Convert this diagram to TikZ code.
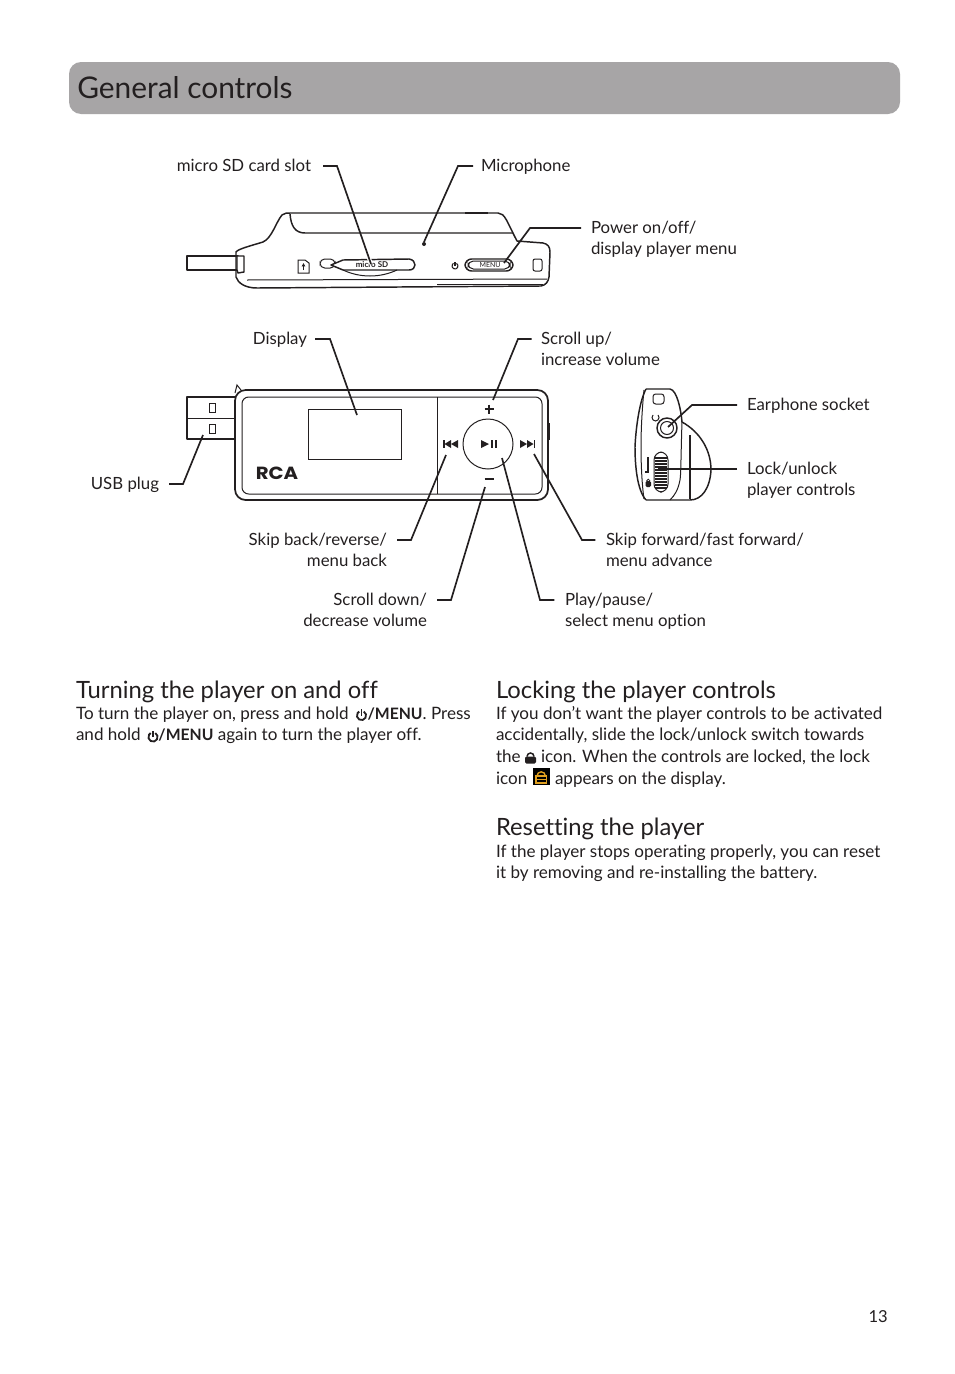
\documentclass[tikz,border=0pt]{standalone}
\usepackage{fontspec}
\setmainfont{Lato}[Ligatures=NoCommon]
\newfontfamily\rcafont{Poppins}[FakeStretch=1.12]
\usetikzlibrary{calc,arrows.meta}
\definecolor{ink}{HTML}{231F20}
\definecolor{band}{HTML}{A7A5A6}
\definecolor{lockgold}{HTML}{E0A020}
\newcommand{\bmenu}{{\fontsize{11.8}{16.3}\selectfont\bfseries /MENU}}
\tikzset{
  dev/.style={draw=ink,line width=1.1pt,line join=round},
  thin dev/.style={draw=ink,line width=.75pt},
  leader/.style={draw=ink,line width=1.25pt,line join=miter},
  lbl/.style={inner sep=0pt,outer sep=0pt,text=ink,font=\fontsize{12.6}{16.25}\selectfont},
  lblL/.style={lbl,anchor=north west,align=left},
  lblR/.style={lbl,anchor=north east,align=right},
  body/.style={inner sep=0pt,outer sep=0pt,text=ink,anchor=north west,align=left,font=\fontsize{12.8}{16.3}\selectfont},
  head/.style={inner sep=0pt,outer sep=0pt,text=ink,anchor=base west,font=\fontsize{17.85}{20}\selectfont},
}
\newcommand{\pwricon}[4]{% x, y, radius, line width
  \draw[ink,line width=#4] (#1,#2) ++(-60:#3) arc (-60:240:#3);
  \draw[ink,line width=#4] (#1,#2) -- ++(0,-#3*1.4);
}
\begin{document}
\begin{tikzpicture}[x=.75pt,y=-.75pt]
\useasboundingbox (0,0) rectangle (954,1374);
\fill[white] (0,0) rectangle (954,1374);
% title band
\fill[band,rounded corners=9pt] (69,62) rectangle (900,114);
\node[inner sep=0pt,text=ink,anchor=base west,font=\fontsize{22.4}{28}\selectfont] (title) at (77,98.5) {General controls};

% ---------- top view of the player
\draw[dev,fill=white] (187,256) rectangle (238,270);
\draw[dev,fill=white] (237,256) -- (244,256) -- (244,272) -- (238,273) -- (237,270) -- cycle;
\draw[dev] (236,277) -- (236,252) .. controls (238,249) and (250,246) .. (263,242)
  .. controls (272,238) and (276,222) .. (282,215) .. controls (284,213) and (287,213) .. (291,213)
  -- (498,213) .. controls (505,213) and (507,222) .. (517,241)
  -- (543,243) .. controls (548,244) and (550,247) .. (550,252) -- (549,277)
  .. controls (548,282) and (546,285) .. (541,286) -- (257,288) .. controls (245,288) and (238,283) .. (236,277) -- cycle;
\draw[dev] (290,214) .. controls (291,226) and (295,233) .. (305,233) -- (513,233);
\draw[thin dev] (247,280) -- (547,279);
\draw[thin dev] (437,284) -- (543,284);
\draw[line width=1.6pt,ink] (465,213) -- (488,213);
\fill[ink] (424,244) circle (2);
% card icon
\draw[thin dev] (298,260) -- (305,260) -- (309,263) -- (309,273) -- (298,273) -- cycle;
\draw[ink,line width=.8pt,-{Latex[length=2.5pt,width=3pt]}] (303.5,270) -- (303.5,263);
% slot
\draw[thin dev,rounded corners=3.5pt] (320,259) rectangle (335,268);
\draw[dev,fill=white] (331,265) -- (343,260) -- (409,259) .. controls (417,260) and (417,270) .. (409,270) -- (343,270) -- cycle;
\draw[thin dev] (343,270) .. controls (360,278) and (380,278) .. (397,270);
\node[inner sep=0pt,text=ink,font=\fontsize{6}{7}\bfseries\selectfont] (sdtext) at (372,265) {micro SD};
% menu button
\draw[dev,rounded corners=5pt] (465,259) rectangle (513,271);
\draw[thin dev,rounded corners=4pt] (468,261) rectangle (510,269);
\node[inner sep=0pt,text=ink,font=\fontsize{5.2}{6}\selectfont] (menutext) at (490,265) {MENU};
\pwricon{455}{266}{3}{.8pt}
\draw[thin dev,rounded corners=1.5pt] (533,259) rectangle (542,271);

% ---------- front view of the player
\draw[dev,fill=white] (187,397) rectangle (236,439);
\draw[thin dev] (187,418) -- (236,418);
\draw[thin dev] (209,403) rectangle (215,412);
\draw[thin dev] (209,424) rectangle (215,433);
\draw[thin dev] (235,393) -- (237,385) -- (241,390);
\draw[dev,fill=white,line width=1.3pt,rounded corners=8pt] (235,390) rectangle (548,500);
\draw[thin dev,rounded corners=5pt] (242,397) rectangle (542,494);
\draw[thin dev] (437,397) -- (437,494);
\draw[line width=1.8pt,ink] (549,423) -- (549,440);
\draw[thin dev] (308,409) rectangle (401,459);
\draw[thin dev] (488,444) circle (25);
\node[inner sep=0pt,text=ink,anchor=base west,font=\rcafont\fontsize{13.2}{14}\bfseries\selectfont] (rcalogo) at (255.5,479.5) {RCA};
\draw[line width=1.2pt,ink] (484.5,409) -- (493.5,409) (489,404.5) -- (489,413.5);
\draw[line width=1.6pt,ink] (484.5,479) -- (493.5,479);
% transport symbols
\fill[ink] (443,440) rectangle (444.5,448);
\fill[ink] (451,440) -- (451,448) -- (444.5,444) -- cycle;
\fill[ink] (458,440) -- (458,448) -- (451,444) -- cycle;
\fill[ink] (520,440) -- (520,448) -- (527,444) -- cycle;
\fill[ink] (527,440) -- (527,448) -- (533.5,444) -- cycle;
\fill[ink] (533.5,440) rectangle (535,448);
\fill[ink] (481,440) -- (481,448) -- (489,444) -- cycle;
\fill[ink] (490.5,440) rectangle (492.5,448);
\fill[ink] (494.5,440) rectangle (496.5,448);

% ---------- end view of the player
\draw[dev] (646,389) .. controls (640,400) and (636,425) .. (635,447) .. controls (635,465) and (637,490) .. (646,500);
\draw[thin dev] (644,390) .. controls (642,410) and (641,430) .. (641,447) .. controls (641,465) and (642,485) .. (644,499);
\draw[dev] (646,389) -- (670,389) .. controls (677,390) and (681,410) .. (682,422)
  .. controls (700,432) and (711,450) .. (711,470) .. controls (710,488) and (702,500) .. (690,500) -- (646,500);
\draw[thin dev] (682,422) .. controls (681,450) and (681,475) .. (680,480) .. controls (678,490) and (675,495) .. (670,500);
\draw[dev] (690,435) -- (690,499);
\draw[thin dev,rounded corners=2pt] (653,394) rectangle (664,404);
\draw[thin dev] (658,415) arc (-45:225:3.5);
\draw[dev] (667,428) circle (10);
\draw[thin dev] (667,428) circle (6.5);
% lock switch
\draw[thin dev,rounded corners=6pt] (654,452) rectangle (668,492);
\foreach \ribY in {458,461,...,488} {\draw[ink,line width=.9pt] (655,\ribY) -- (667,\ribY);}
\draw[ink,line width=.8pt] (648,457) -- (648,472) -- (645,472);
\fill[ink,rounded corners=1pt] (645.5,481) rectangle (651,487);
\draw[ink,line width=.6pt] (646.5,481) arc (180:360:1.8);

% ---------- labels
\node[lblR] (lsd) at (311,156) {\strut micro SD card slot};
\node[lblL] (lmic) at (481,156) {\strut Microphone};
\node[lblL] (lpow) at (591,218) {\strut Power on/off/\\display player menu};
\node[lblR] (ldis) at (307,329) {\strut Display};
\node[lblL] (lup) at (541,329) {\strut Scroll up/\\increase volume};
\node[lblR] (lusb) at (159,474) {\strut USB plug};
\node[lblL] (lear) at (747,395) {\strut Earphone socket};
\node[lblL] (llock) at (747,459) {\strut Lock/unlock\\player controls};
\node[lblR] (lback) at (387,530) {\strut Skip back/reverse/\\menu back};
\node[lblL] (lfwd) at (606,530) {\strut Skip forward/fast forward/\\menu advance};
\node[lblR] (ldown) at (427,590) {\strut Scroll down/\\decrease volume};
\node[lblL] (lplay) at (565,590) {\strut Play/pause/\\select menu option};

% ---------- leader lines
\coordinate (esd) at (337,166);   \coordinate (tsd) at (371,264);
\coordinate (emic) at (458,166);  \coordinate (tmic) at (424,242);
\coordinate (epow) at (530,228);  \coordinate (tpow) at (504,263);
\coordinate (edis) at (330,339);  \coordinate (tdis) at (357,415);
\coordinate (eup) at (518,339);   \coordinate (tup) at (493,400);
\coordinate (eusb) at (183,484);  \coordinate (tusb) at (203,435);
\coordinate (eear) at (692,405);  \coordinate (tear) at (668,427);
\coordinate (elock) at (658,469);
\coordinate (eback) at (411,540); \coordinate (tback) at (446,455);
\coordinate (efwd) at (582,540);  \coordinate (tfwd) at (534,454);
\coordinate (edown) at (451,600); \coordinate (tdown) at (485,487);
\coordinate (eplay) at (540,600); \coordinate (tplay) at (502,458);
\draw[white,line width=3pt] (362,238) -- (tsd);
\draw[leader] ([xshift=9pt,yshift=-7.5pt]lsd.north east) -- (esd) -- (tsd);
\draw[leader] ([xshift=-6pt,yshift=-7.5pt]lmic.north west) -- (emic) -- (tmic);
\draw[leader] ([xshift=-7.5pt,yshift=-7.5pt]lpow.north west) -- (epow) -- (tpow);
\draw[leader] ([xshift=6pt,yshift=-7.5pt]ldis.north east) -- (edis) -- (tdis);
\draw[leader] ([xshift=-7pt,yshift=-7.5pt]lup.north west) -- (eup) -- (tup);
\draw[leader] ([xshift=7.5pt,yshift=-7.5pt]lusb.north east) -- (eusb) -- (tusb);
\draw[leader] ([xshift=-7.5pt,yshift=-7.5pt]lear.north west) -- (eear) -- (tear);
\draw[leader] ([xshift=-7.5pt,yshift=-7.5pt]llock.north west) -- (elock);
\draw[leader] ([xshift=7.5pt,yshift=-7.5pt]lback.north east) -- (eback) -- (tback);
\draw[leader] ([xshift=-8pt,yshift=-7.5pt]lfwd.north west) -- (efwd) -- (tfwd);
\draw[leader] ([xshift=7.5pt,yshift=-7.5pt]ldown.north east) -- (edown) -- (tdown);
\draw[leader] ([xshift=-8pt,yshift=-7.5pt]lplay.north west) -- (eplay) -- (tplay);

% ---------- text
\node[head] (h1) at (76,698) {Turning the player on and off};
\node[head] (h2) at (496,698) {Locking the player controls};
\node[head] (h3) at (496,835) {Resetting the player};
\node[body] (p1) at (76,704) {\strut To turn the player on, press and hold \hspace{11pt}\bmenu. Press\\and hold \hspace{10pt}\bmenu{} again to turn the player off.};
\node[body] (p2) at (496,704) {\strut If you don’t want the player controls to be activated\\accidentally, slide the lock/unlock switch towards\\the \hspace{12pt}icon. When the controls are locked, the lock\\icon \hspace{17.5pt}appears on the display.};
\node[body] (p3) at (496,842) {\strut If the player stops operating properly, you can reset\\it by removing and re-installing the battery.};
\pwricon{361.5}{715.5}{4.6}{1.35pt}
\pwricon{153}{737}{4.6}{1.35pt}
% lock icons in the text
\fill[ink,rounded corners=1pt] (525,756.5) rectangle (536,763.5);
\draw[ink,line width=1.1pt] (527,756.5) arc (180:360:3.5);
\fill[black] (533,768) rectangle (549.5,785);
\draw[lockgold,line width=1pt] (536,776) -- (536,783) -- (546.5,783) -- (546.5,776) -- cycle;
\draw[lockgold,line width=.9pt] (536,779.5) -- (546.5,779.5);
\draw[lockgold,line width=1pt] (537,776) arc (180:360:4.2);
\node[inner sep=0pt,text=ink,anchor=base east,font=\fontsize{12.4}{14}\selectfont] (pageno) at (888,1322) {13};
\end{tikzpicture}
\end{document}
